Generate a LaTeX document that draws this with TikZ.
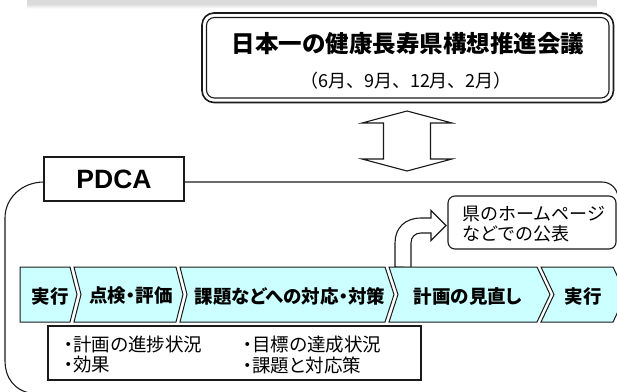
\documentclass[tikz,border=0pt]{standalone}
\usepackage{fontspec}
\usetikzlibrary{calc}
\setmainfont{Noto Sans CJK JP}
\newfontfamily\jpp{Noto Sans CJK JP}[RawFeature=+palt]
\newfontfamily\arialfont{Liberation Sans}
\definecolor{chevfill}{HTML}{CCFFFF}
\definecolor{lineblk}{HTML}{1A1A1A}
\begin{document}
\begin{tikzpicture}[x=1pt,y=-1pt,line join=miter,
  chevstyle/.style={fill=chevfill,draw=lineblk,line width=1pt},
  chevlbl/.style={inner sep=0pt,font=\jpp\bfseries\fontsize{18.5}{20}\selectfont},
  notelbl/.style={inner sep=0pt,anchor=west,font=\jpp\fontsize{18.5}{20}\selectfont},
  boxline/.style={draw=lineblk,line width=1.2pt},
  frameline/.style={draw=lineblk,line width=1.1pt},
  blockarrow/.style={draw=lineblk,fill=white,line width=1.1pt}]
\useasboundingbox (0,0) rectangle (617,391);
\clip (0,0) rectangle (617,391);
% shadow band at the top
\fill[gray!28] (27,0) rectangle (597,4);
\shade[top color=gray!28,bottom color=white] (27,4) rectangle (597,8.5);
% meeting box (double border)
\draw[draw=lineblk,line width=1.6pt,rounded corners=12pt] (202,13) rectangle (613.5,102.5);
\draw[draw=lineblk,line width=1.1pt,rounded corners=8pt] (206.5,17.5) rectangle (609,98);
\node[inner sep=0pt,font=\bfseries\fontsize{23.5}{25}\selectfont] (title) at (408,44) {日本一の健康長寿県構想推進会議};
\node[inner sep=0pt,font=\fontsize{18}{20}\selectfont] (months) at (406,81) {（6月、9月、12月、2月）};
% double block arrow
\coordinate (darr) at (407,141);
\draw[blockarrow] ($(darr)+(0,-30)$) -- ++(45,12) -- ++(-21.5,0) -- ++(0,36) -- ++(21.5,0)
  -- ($(darr)+(0,30)$) -- ++(-45,-12) -- ++(21.5,0) -- ++(0,-36) -- ++(-21.5,0) -- cycle;
% PDCA frame
\draw[frameline] (44,182) -- (602,182) .. controls (610.8,182) and (618,189.2) .. (618,198) -- (618,400);
\draw[frameline] (44,182) .. controls (22,182) and (5,198) .. (5,218) -- (5,360)
  .. controls (5,378) and (14,391) .. (34,394) -- (620,394);
\node[boxline,fill=white,minimum width=140pt,minimum height=44pt,inner sep=0pt,
  font=\arialfont\bfseries\fontsize{26.5}{28}\selectfont] (pdca) at (114,179) {PDCA};
% callout
\node[draw=lineblk,line width=1.1pt,fill=white,rounded corners=7pt,minimum width=168pt,minimum height=53pt,inner sep=0pt] (pub) at (532,222.5) {};
\node[inner sep=0pt,anchor=west,align=left,font=\fontsize{18}{19.5}\selectfont] (pubtxt) at (462,224) {県のホームページ\\などでの公表};
% curved block arrow from the review step to the callout
\coordinate (ca) at (395,267);
\draw[blockarrow] (ca) -- (395,243) .. controls (395,228) and (405,218) .. (421,218) -- (431,218) -- (431,210.5)
  -- (446,225.5) -- (431,240.5) -- (431,233) -- (421,233) .. controls (415,233) and (411,237) .. (411,243) -- (411,267.5) -- cycle;
% chevrons
\draw[chevstyle] (20,267) -- (70,267) -- (77,294.5) -- (70,322) -- (20,322) -- cycle;
\draw[chevstyle] (74,267) -- (176,267) -- (183,294.5) -- (176,322) -- (74,322) -- (81,294.5) -- cycle;
\draw[chevstyle] (180,267) -- (385,267) -- (394,294.5) -- (385,322) -- (180,322) -- (187,294.5) -- cycle;
\draw[chevstyle] (389,267) -- (537,267) -- (550,294.5) -- (537,322) -- (389,322) -- (398,294.5) -- cycle;
\draw[chevstyle] (541,267) -- (613,267) -- (626,294.5) -- (613,322) -- (541,322) -- (554,294.5) -- cycle;
\node[chevlbl] (s1) at (50,296) {実行};
\node[chevlbl] (s2) at (131,296) {点検・評価};
\node[chevlbl] (s3) at (290,296) {課題などへの対応・対策};
\node[chevlbl] (s4) at (468,296) {計画の見直し};
\node[chevlbl] (s5) at (583,296) {実行};
% notes box
\node[boxline,line width=1.1pt,minimum width=373pt,minimum height=54pt,inner sep=0pt] (notes) at (234.5,353) {};
\node[notelbl] (n1) at (64,344.5) {・計画の進捗状況};
\node[notelbl] (n2) at (64,365) {・効果};
\node[notelbl] (n3) at (243,344.5) {・目標の達成状況};
\node[notelbl] (n4) at (243,365) {・課題と対応策};
\end{tikzpicture}
\end{document}
